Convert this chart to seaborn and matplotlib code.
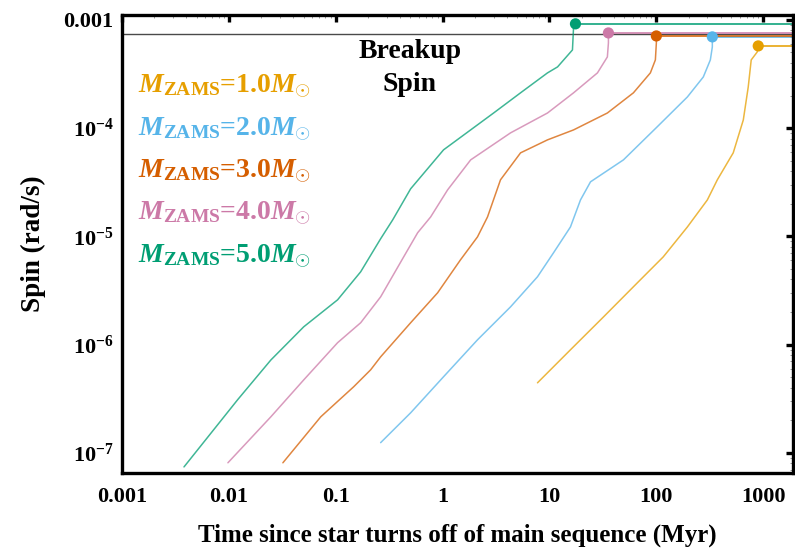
import numpy as np
import pandas as pd
import matplotlib
matplotlib.use("Agg")
import matplotlib.pyplot as plt
import matplotlib.ticker as mticker
import seaborn as sns

# Spin-up tracks after leaving the main sequence, one per ZAMS mass
masses = ["1.0", "2.0", "3.0", "4.0", "5.0"]
colors = ["#E69F00", "#56B4E9", "#D55E00", "#CC79A7", "#009E73"]

t_m1 = [7.72, 15.7, 32.0, 66.4, 116, 195, 300, 372, 524, 651, 724, 772, 879, 898]
s_m1 = [4.43e-7, 8.94e-7, 1.80e-6, 3.72e-6, 6.46e-6, 1.22e-5, 2.17e-5, 3.33e-5,
        5.91e-5, 1.19e-4, 2.40e-4, 4.27e-4, 5.06e-4, 5.75e-4]

t_m2 = [0.263, 0.502, 1.02, 2.12, 4.32, 7.72, 10.9, 15.7, 19.5, 24.2, 49.2, 102,
        195, 275, 320, 334, 334]
s_m2 = [1.24e-7, 2.34e-7, 5.04e-7, 1.106e-6, 2.23e-6, 4.23e-6, 7.04e-6, 1.22e-5,
        2.17e-5, 3.19e-5, 5.09e-5, 1.03e-4, 1.94e-4, 2.97e-4, 4.27e-4, 5.63e-4, 6.97e-4]

t_m3 = [0.0320, 0.0724, 0.147, 0.212, 0.263, 0.502, 0.898, 1.47, 2.12, 2.63, 3.48,
        5.36, 9.58, 16.8, 34.8, 61.0, 87.9, 97.9, 100, 100]
s_m3 = [8.08e-8, 2.15e-7, 4.07e-7, 5.84e-7, 7.70e-7, 1.59e-6, 3.01e-6, 6.07e-6,
        9.89e-6, 1.51e-5, 3.33e-5, 5.91e-5, 7.79e-5, 9.63e-5, 1.38e-4, 2.12e-4,
        3.24e-4, 4.27e-4, 6.13e-4, 7.11e-4]

t_m4 = [0.00979, 0.0247, 0.0502, 0.104, 0.171, 0.263, 0.432, 0.584, 0.772, 1.114,
        1.83, 4.32, 9.58, 16.8, 28.1, 34.8, 35.6, 35.6]
s_m4 = [8.08e-8, 2.15e-7, 4.72e-7, 1.04e-6, 1.59e-6, 2.76e-6, 6.46e-6, 1.08e-5,
        1.51e-5, 2.69e-5, 5.09e-5, 9.04e-5, 1.38e-4, 2.12e-4, 3.24e-4, 4.55e-4,
        6.13e-4, 7.58e-4]

t_m5 = [0.0038, 0.0121, 0.0247, 0.0502, 0.104, 0.171, 0.263, 0.341, 0.502, 1.02,
        3.0, 5.36, 9.58, 11.9, 16.4, 16.8, 17.5]
s_m5 = [7.4e-8, 3.1e-7, 7.2e-7, 1.46e-6, 2.59e-6, 4.7e-6, 9.5e-6, 1.42e-5, 2.75e-5,
        6.3e-5, 1.38e-4, 2.12e-4, 3.24e-4, 3.68e-4, 5.28e-4, 8.6e-4, 9.2e-4]

breakup_spin = 7.42e-4

x_ticks = [0.001, 0.01, 0.1, 1, 10, 100, 1000]
x_tick_labels = ["0.001", "0.01", "0.1", "1", "10", "100", "1000"]
y_ticks = [1e-7, 1e-6, 1e-5, 1e-4, 1e-3]
y_tick_labels = [r"$10^{-7}$", r"$10^{-6}$", r"$10^{-5}$", r"$10^{-4}$", "0.001"]

X_MIN, X_MAX = 1e-3, 1900
Y_MIN, Y_MAX = 6.5e-8, 1.11e-3

tracks = [(t_m1, s_m1), (t_m2, s_m2), (t_m3, s_m3), (t_m4, s_m4), (t_m5, s_m5)]
frames = []
for m, (t, s) in zip(masses, tracks):
    frames.append(pd.DataFrame({"time": t, "spin": s, "mass": m}))
df = pd.concat(frames, ignore_index=True)
ends = df.groupby("mass", sort=False).tail(1).reset_index(drop=True)

sns.set_style("white")
serif = ["Liberation Serif", "DejaVu Serif"]
plt.rcParams["font.family"] = serif
plt.rcParams["font.weight"] = "bold"
plt.rcParams["text.color"] = "black"
plt.rcParams["axes.labelcolor"] = "black"
plt.rcParams["xtick.color"] = "black"
plt.rcParams["ytick.color"] = "black"
plt.rcParams["mathtext.fontset"] = "custom"
plt.rcParams["mathtext.rm"] = "Liberation Serif:bold"
plt.rcParams["mathtext.bf"] = "Liberation Serif:bold"
plt.rcParams["mathtext.it"] = "Liberation Serif:italic:bold"

fig = plt.figure(figsize=(7.95, 5.52), dpi=100)
ax = fig.add_axes([0.1535, 0.1431, 0.844, 0.8297])

palette = dict(zip(masses, colors))

# breakup spin reference
ax.axhline(breakup_spin, color="#4a4a4a", lw=1.0, zorder=1)

sns.lineplot(data=df, x="time", y="spin", hue="mass", palette=palette,
             sort=False, estimator=None, lw=1.1, alpha=0.75, legend=False,
             ax=ax, zorder=2)

# once at breakup the spin stays fixed
for _, row in ends.iterrows():
    ax.hlines(row["spin"], row["time"], X_MAX, color=palette[row["mass"]],
              lw=1.4, alpha=0.8, zorder=2)

sns.scatterplot(data=ends, x="time", y="spin", hue="mass", palette=palette,
                s=65, edgecolor="none", legend=False, ax=ax, zorder=3)

ax.set_xscale("log")
ax.set_yscale("log")
ax.set_xlim(X_MIN, X_MAX)
ax.set_ylim(Y_MIN, Y_MAX)

ax.xaxis.set_major_locator(mticker.FixedLocator(x_ticks))
ax.xaxis.set_major_formatter(mticker.FixedFormatter(x_tick_labels))
ax.yaxis.set_major_locator(mticker.FixedLocator(y_ticks))
ax.yaxis.set_major_formatter(mticker.FixedFormatter(y_tick_labels))
ax.xaxis.set_minor_locator(mticker.LogLocator(base=10, subs=np.arange(2, 10)))
ax.yaxis.set_minor_locator(mticker.LogLocator(base=10, subs=np.arange(2, 10)))
ax.xaxis.set_minor_formatter(mticker.NullFormatter())
ax.yaxis.set_minor_formatter(mticker.NullFormatter())

for sp in ax.spines.values():
    sp.set_linewidth(2.4)
    sp.set_color("black")
ax.tick_params(which="major", direction="in", length=5, width=2.4,
               top=True, right=True, labelsize=16, colors="black")
ax.tick_params(axis="x", which="major", pad=10)
ax.tick_params(axis="y", which="major", pad=6)
ax.tick_params(which="minor", direction="in", length=2.5, width=0.6,
               top=True, right=True, color="#888888")
for lab in ax.get_xticklabels() + ax.get_yticklabels():
    lab.set_fontweight("bold")

ax.set_xlabel("Time since star turns off of main sequence (Myr)",
              fontsize=18, fontweight="bold", labelpad=12)
ax.set_ylabel("Spin (rad/s)", fontsize=19.5, fontweight="bold", labelpad=13)

ax.text(0.429, 0.884, "Breakup\nSpin", transform=ax.transAxes, ha="center",
        va="center", fontsize=20, fontweight="bold", linespacing=1.45)

for i, (m, c) in enumerate(zip(masses, colors)):
    ax.text(0.024, 0.842 - i * 0.0924,
            r"$M_{\mathrm{ZAMS}}$=" + m + r"$M_{\odot}$",
            transform=ax.transAxes, ha="left", va="center", fontsize=20,
            fontweight="bold", color=c)

fig.savefig("out.png", dpi=100)
